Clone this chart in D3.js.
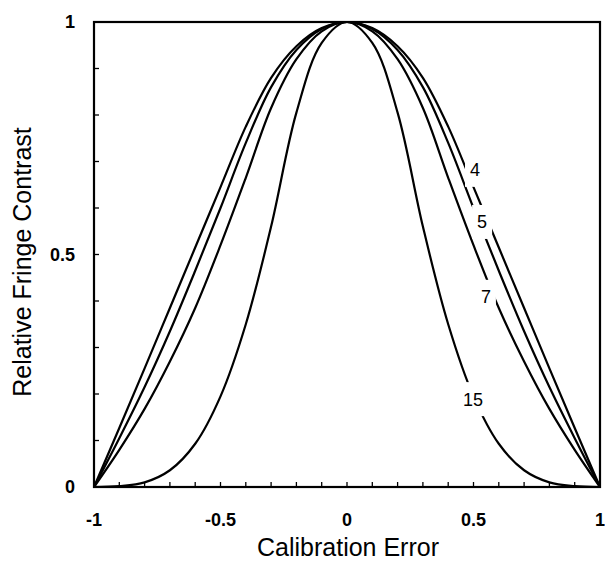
<!DOCTYPE html>
<html>
<head>
<meta charset="utf-8">
<script src="https://cdn.jsdelivr.net/npm/d3@7"></script>
<style>
  html, body { margin: 0; padding: 0; background: #fff; }
  svg { display: block; }
</style>
</head>
<body>
<svg id="chart" width="605" height="565"></svg>
<script>
// ---- data ----
const xValues = [-1, -0.9, -0.8, -0.7, -0.6, -0.5, -0.4, -0.3, -0.2, -0.1, 0,
                  0.1, 0.2, 0.3, 0.4, 0.5, 0.6, 0.7, 0.8, 0.9, 1];
const curve4  = [0, 0.127, 0.255, 0.385, 0.515, 0.645, 0.775, 0.88, 0.948, 0.987, 1,
                 0.987, 0.948, 0.88, 0.775, 0.645, 0.515, 0.385, 0.255, 0.127, 0];
const curve5  = [0, 0.105, 0.215, 0.335, 0.465, 0.60, 0.74, 0.86, 0.94, 0.985, 1,
                 0.985, 0.94, 0.86, 0.74, 0.60, 0.465, 0.335, 0.215, 0.105, 0];
const curve7  = [0, 0.08, 0.168, 0.27, 0.385, 0.52, 0.665, 0.815, 0.92, 0.98, 1,
                 0.98, 0.92, 0.815, 0.665, 0.52, 0.385, 0.27, 0.168, 0.08, 0];
const curve15 = [0, 0.002, 0.01, 0.036, 0.093, 0.195, 0.35, 0.56, 0.805, 0.955, 1,
                 0.955, 0.805, 0.56, 0.35, 0.195, 0.093, 0.036, 0.01, 0.002, 0];
const seriesNames = ["4", "5", "7", "15"];
const xTickLabels = ["-1", "-0.5", "0", "0.5", "1"];
const yTickLabels = ["0", "0.5", "1"];
const xTitle = "Calibration Error";
const yTitle = "Relative Fringe Contrast";

const seriesValues = [curve4, curve5, curve7, curve15];
// label anchor points (data coords) for the inline curve labels
const labelPos = [[0.506, 0.682], [0.534, 0.570], [0.549, 0.409], [0.498, 0.189]];

// ---- layout ----
const svg = d3.select("#chart");
const L = 94, R = 600, T = 22, B = 487;
const x = d3.scaleLinear().domain([-1, 1]).range([L, R]);
const y = d3.scaleLinear().domain([0, 1]).range([B, T]);
const FONT = "Liberation Sans, Arial, sans-serif";

const g = svg.append("g");

// curves
const line = d3.line()
  .x((d, i) => x(xValues[i]))
  .y(d => y(d))
  .curve(d3.curveCatmullRom.alpha(0.5));

g.selectAll("path.curve")
  .data(seriesValues)
  .join("path")
  .attr("class", "curve")
  .attr("d", d => line(d))
  .attr("fill", "none")
  .attr("stroke", "#000")
  .attr("stroke-width", 2.2);

// curve labels with white boxes that break the lines
const labG = g.selectAll("g.lab")
  .data(seriesNames)
  .join("g")
  .attr("class", "lab")
  .attr("transform", (d, i) => `translate(${x(labelPos[i][0])},${y(labelPos[i][1])})`);

labG.append("text")
  .attr("dy", "0.36em")
  .attr("text-anchor", "middle")
  .attr("font-family", FONT)
  .attr("font-size", 18)
  .attr("fill", "#000")
  .text(d => d);

labG.each(function() {
  const grp = d3.select(this);
  const bb = grp.select("text").node().getBBox();
  grp.insert("rect", "text")
    .attr("x", bb.x - 5)
    .attr("y", -17)
    .attr("width", bb.width + 10)
    .attr("height", 34)
    .attr("fill", "#fff");
});

// minor ticks every 0.1 (inside)
const minorX = d3.range(-10, 11).map(k => k / 10);
const minorY = d3.range(0, 11).map(k => k / 10);
g.selectAll("line.tx")
  .data(minorX)
  .join("line")
  .attr("x1", d => x(d)).attr("x2", d => x(d))
  .attr("y1", B).attr("y2", B - 5)
  .attr("stroke", "#000").attr("stroke-width", 1.3);
g.selectAll("line.ty")
  .data(minorY)
  .join("line")
  .attr("y1", d => y(d)).attr("y2", d => y(d))
  .attr("x1", L).attr("x2", L + 5)
  .attr("stroke", "#000").attr("stroke-width", 1.3);

// frame
g.append("rect")
  .attr("x", L).attr("y", T)
  .attr("width", R - L).attr("height", B - T)
  .attr("fill", "none")
  .attr("stroke", "#000")
  .attr("stroke-width", 2.2);

// tick labels
g.selectAll("text.xt")
  .data(xTickLabels)
  .join("text")
  .attr("x", d => x(+d))
  .attr("y", 526)
  .attr("text-anchor", "middle")
  .attr("font-family", FONT)
  .attr("font-weight", "bold")
  .attr("font-size", 18)
  .text(d => d);

g.selectAll("text.yt")
  .data(yTickLabels)
  .join("text")
  .attr("x", 75)
  .attr("y", d => y(+d))
  .attr("dy", "0.36em")
  .attr("text-anchor", "end")
  .attr("font-family", FONT)
  .attr("font-weight", "bold")
  .attr("font-size", 18)
  .text(d => d);

// axis titles
g.append("text")
  .attr("x", 348)
  .attr("y", 556)
  .attr("text-anchor", "middle")
  .attr("font-family", FONT)
  .attr("font-size", 25)
  .text(xTitle);

g.append("text")
  .attr("transform", "translate(31,262) rotate(-90)")
  .attr("text-anchor", "middle")
  .attr("font-family", FONT)
  .attr("font-size", 25)
  .text(yTitle);
</script>
</body>
</html>
